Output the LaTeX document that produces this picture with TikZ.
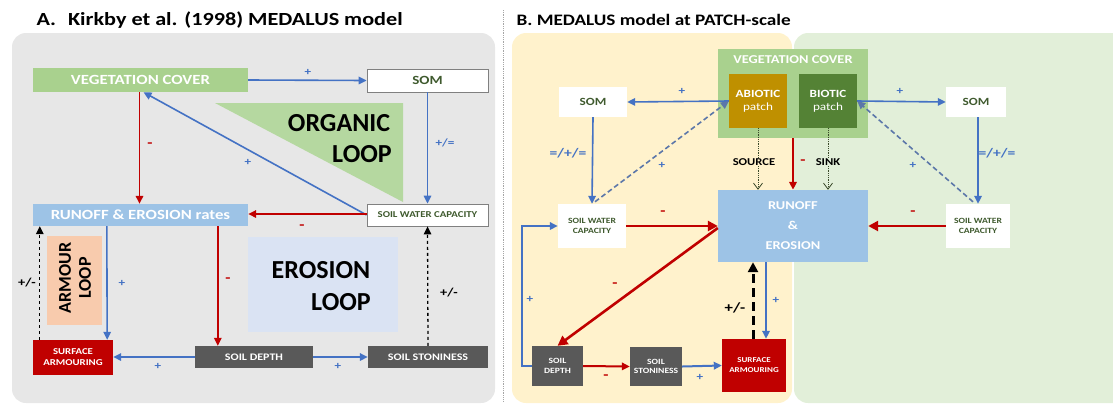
\documentclass[tikz,border=0pt]{standalone}
\usepackage{fontspec}
\setmainfont{Carlito}[FakeStretch=1.2]
\newfontfamily\loopfam{Carlito}
\usetikzlibrary{calc,arrows.meta,positioning}

\definecolor{panelgray}{HTML}{E7E7E7}
\definecolor{orbg}{HTML}{FFF2CC}
\definecolor{grbg}{HTML}{E2EFD9}
\definecolor{veggreen}{HTML}{A9D18E}
\definecolor{orgfill}{HTML}{B5D8A0}
\definecolor{runblue}{HTML}{9DC3E6}
\definecolor{erofill}{HTML}{DAE3F3}
\definecolor{armfill}{HTML}{F8CBAD}
\definecolor{armred}{HTML}{C00000}
\definecolor{darkbox}{HTML}{595959}
\definecolor{abiogold}{HTML}{BF9000}
\definecolor{biogreen}{HTML}{548235}
\definecolor{boxtext}{HTML}{3F5A2E}
\definecolor{arrblue}{HTML}{4472C4}
\definecolor{arrred}{HTML}{C00000}
\definecolor{srcline}{HTML}{3B4A2A}

\tikzset{
  box/.style={inner sep=0pt, align=center, text=white,
    font=\bfseries\fontsize{8}{9.5}\selectfont},
  wbox/.style={box, fill=white, text=boxtext},
  title/.style={anchor=west, font=\bfseries\fontsize{18.5}{20}\selectfont},
  loopfont/.style={font=\loopfam\bfseries\fontsize{26}{30}\selectfont},
  blua/.style={draw=arrblue, line width=1.6pt, -{Triangle[length=8pt,width=7.5pt]}},
  reda/.style={draw=arrred, line width=1.6pt, -{Triangle[length=8pt,width=7.5pt]}},
  thickred/.style={draw=arrred, line width=2.6pt, -{Triangle[length=10pt,width=10pt]}},
  blackdash/.style={draw=black, line width=1.3pt, dashed, -{Triangle[length=8pt,width=7.5pt]}},
  thinsrc/.style={draw=srcline, line width=0.8pt, densely dotted, -{Straight Barb[length=6pt,width=9pt]}},
  lblue/.style={text=arrblue, font=\bfseries\fontsize{11}{11}\selectfont},
  lred/.style={text=arrred, font=\bfseries\fontsize{14}{14}\selectfont},
  lblack/.style={text=black, font=\bfseries\fontsize{12}{12}\selectfont}
}

\begin{document}
\begin{tikzpicture}[x=1pt,y=-1pt]
  \useasboundingbox (0,0) rectangle (1113,405);

  % ---- panel A
  \fill[panelgray, rounded corners=14pt] (12,33) rectangle (495,403);
  \node[title] (titA) at (33,20) {A.\hspace{12pt}Kirkby et al. (1998) MEDALUS model};

  \fill[orgfill] (215,103) -- (403,103) -- (403,202) -- cycle;
  \node[loopfont] (orgA) at (339,123) {ORGANIC};
  \node[loopfont] (orgB) at (362,154) {LOOP};
  \fill[armfill] (47,236) rectangle (102,325);
  \node[rotate=90, align=center, font=\loopfam\bfseries\fontsize{18}{20}\selectfont] (armloop) at (75,278) {ARMOUR\\LOOP};
  \fill[erofill] (248,237) rectangle (398,332);
  \node[loopfont] (eroA) at (321,270) {EROSION};
  \node[loopfont] (eroB) at (341,302) {LOOP};

  \node[box, fill=veggreen, minimum width=215pt, minimum height=24pt, font=\bfseries\fontsize{14}{14}\selectfont] (veg) at (140.5,80) {VEGETATION COVER};
  \node[wbox, draw=gray, line width=0.8pt, minimum width=121pt, minimum height=23pt, font=\bfseries\fontsize{12.5}{12.5}\selectfont] (somA) at (427.5,80.5) {SOM};
  \node[wbox, draw=gray, line width=0.8pt, minimum width=121pt, minimum height=22pt, font=\bfseries\fontsize{9}{9}\selectfont] (swcA) at (427.5,215) {SOIL WATER CAPACITY};
  \node[box, fill=runblue, minimum width=215pt, minimum height=22pt, font=\bfseries\fontsize{14}{14}\selectfont] (runA) at (140.5,215) {RUNOFF \& EROSION rates};
  \node[box, fill=armred, minimum width=80pt, minimum height=35pt, font=\bfseries\fontsize{9}{11}\selectfont] (armA) at (73,357.5) {SURFACE\\ARMOURING};
  \node[box, fill=darkbox, minimum width=118pt, minimum height=22pt, font=\bfseries\fontsize{10}{10}\selectfont] (depA) at (254,357) {SOIL DEPTH};
  \node[box, fill=darkbox, minimum width=120pt, minimum height=22pt, font=\bfseries\fontsize{10}{10}\selectfont] (stoA) at (428,357) {SOIL STONINESS};

  \draw[blua] (veg.east) -- (somA.west);
  \draw[blua] (somA.south) -- (swcA.north);
  \draw[blua] (swcA.west) -- ($(veg.south)+(3,0)$);
  \draw[reda] ($(veg.south)+(-1,0)$) -- ($(runA.north)+(-1,0)$);
  \draw[reda] ($(swcA.west)+(0,-1)$) -- ($(runA.east)+(0,-1)$);
  \draw[blua] ($(runA.south west)+(74,0)$) -- ($(armA.north east)+(-6,0)$);
  \draw[blackdash] ($(armA.north west)+(7,0)$) -- ($(runA.south west)+(7,0)$);
  \draw[reda] ($(runA.south west)+(185,0)$) -- ($(depA.north west)+(23,0)$);
  \draw[blua] (depA.west) -- (armA.east |- depA.west);
  \draw[blua] (depA.east) -- (stoA.west);
  \draw[blackdash] (stoA.north) -- (swcA.south);

  \node[lblue] (pA1) at (308,72) {+};
  \node[lblue] (pA2) at (445,143) {+/=};
  \node[lblue] (pA3) at (248,162) {+};
  \node[lred] (mA1) at (150,145) {-};
  \node[lred] (mA2) at (302,227) {-};
  \node[lblack] (pmA1) at (27,283) {+/-};
  \node[lblue] (pA4) at (122,283) {+};
  \node[lred] (mA3) at (228,280) {-};
  \node[lblack] (pmA2) at (449,293) {+/-};
  \node[lblue] (pA5) at (158,366) {+};
  \node[lblue] (pA6) at (338,366) {+};

  \draw[gray!70, densely dotted, line width=0.8pt] (503,10) -- (503,402);

  % ---- panel B
  \fill[orbg, rounded corners=14pt] (512,33) rectangle (792,403);
  \fill[grbg, rounded corners=14pt] (794,33) rectangle (1140,403);
  \node[title, font=\bfseries\fontsize{16}{18}\selectfont] (titB) at (513,20) {B. MEDALUS model at PATCH-scale};

  \node[box, fill=veggreen, minimum width=150pt, minimum height=89pt] (vegB) at (793,93.5) {};
  \node[box, font=\bfseries\fontsize{12}{12}\selectfont] (vegBt) at (793,60) {VEGETATION COVER};
  \node[box, fill=abiogold, minimum width=58pt, minimum height=54pt, font=\fontsize{11}{13}\selectfont] (abio) at (758,101) {\textbf{ABIOTIC}\\patch};
  \node[box, fill=biogreen, minimum width=58pt, minimum height=54pt, font=\fontsize{11}{13}\selectfont] (bio) at (828,101) {\textbf{BIOTIC}\\patch};
  \node[wbox, minimum width=68pt, minimum height=30pt, font=\bfseries\fontsize{11}{11}\selectfont] (somL) at (593,102) {SOM};
  \node[wbox, minimum width=60pt, minimum height=30pt, font=\bfseries\fontsize{11}{11}\selectfont] (somR) at (976,102) {SOM};
  \node[wbox, minimum width=68pt, minimum height=44pt] (swcL) at (592,226) {SOIL WATER\\CAPACITY};
  \node[wbox, minimum width=64pt, minimum height=44pt] (swcR) at (978,226) {SOIL WATER\\CAPACITY};
  \node[box, fill=runblue, minimum width=150pt, minimum height=72pt, font=\bfseries\fontsize{12}{20}\selectfont] (runB) at (793,226) {RUNOFF\\\&\\EROSION};
  \node[box, fill=darkbox, minimum width=51pt, minimum height=40pt] (depB) at (557.5,366) {SOIL\\DEPTH};
  \node[box, fill=darkbox, minimum width=52pt, minimum height=39pt] (stoB) at (656,366.5) {SOIL\\STONINESS};
  \node[box, fill=armred, minimum width=64pt, minimum height=53pt, font=\bfseries\fontsize{7.5}{10}\selectfont] (armB) at (754,365.5) {SURFACE\\ARMOURING};

  \coordinate (armtop) at ($(armB.north)+(-1,0)$);
  \coordinate (armtopb) at ($(armB.north)+(12,0)$);

  \draw[blua] (abio.west) -- (somL.east);
  \draw[blua] (bio.east) -- (somR.west);
  \draw[blua] (somL.south) -- (swcL.north);
  \draw[blua] (somR.south -| swcR.north) -- (swcR.north);
  \draw[blua, dash pattern=on 5pt off 3pt, draw=arrblue!60!gray] ($(swcL.north)+(3,-2)$) -- (abio.west);
  \draw[blua, dash pattern=on 5pt off 3pt, draw=arrblue!60!gray] ($(swcR.north)+(-5,-2)$) -- (bio.east);
  \draw[thinsrc] (abio.south) -- (abio.south |- runB.north);
  \draw[thinsrc] (bio.south) -- (bio.south |- runB.north);
  \draw[reda, line width=2pt] (vegB.south) -- (runB.north);
  \draw[thickred] (swcL.east) -- (runB.west);
  \draw[thickred] (swcR.west) -- (runB.east);
  \draw[thickred] ($(runB.west)+(0,2)$) -- (depB.north);
  \draw[blua] (depB.west) -- ++(-10,0) |- (swcL.west);
  \draw[reda, line width=2pt] (depB.east) -- (stoB.west);
  \draw[blua, line width=2pt] (stoB.east) -- (armB.west);
  \draw[draw=black, line width=3pt, dash pattern=on 9pt off 5pt, -{Triangle[length=10pt,width=10pt]}] (armtop) -- (armtop |- runB.south);
  \draw[blua] (armtopb |- runB.south) -- (armtopb);

  \node[lblue] (pB1) at (682,91) {+};
  \node[lblue] (pB2) at (900,91) {+};
  \node[lblue, font=\bfseries\fontsize{13}{13}\selectfont] (pB3) at (568,153) {=/+/=};
  \node[lblue, font=\bfseries\fontsize{13}{13}\selectfont] (pB4) at (997,153) {=/+/=};
  \node[lblue] (pB5) at (662,165) {+};
  \node[lblue] (pB6) at (913,165) {+};
  \node[lblack, fill=orbg, inner sep=1pt, font=\bfseries\fontsize{10.5}{10.5}\selectfont] (srcB) at (754,162) {SOURCE};
  \node[lblack, fill=grbg, inner sep=1pt, font=\bfseries\fontsize{10.5}{10.5}\selectfont] (snkB) at (828,162) {SINK};
  \node[lred] (mB1) at (803,162) {-};
  \node[lred] (mB2) at (663,213) {-};
  \node[lred] (mB3) at (913,213) {-};
  \node[lred] (mB4) at (615,285) {-};
  \node[lblue] (pB7) at (530,299) {+};
  \node[lblack, font=\bfseries\fontsize{14}{14}\selectfont] (pmB) at (735,308) {+/-};
  \node[lblue] (pB8) at (776,300) {+};
  \node[lred] (mB5) at (606,377) {-};
  \node[lblue] (pB9) at (700,377) {+};
\end{tikzpicture}
\end{document}
